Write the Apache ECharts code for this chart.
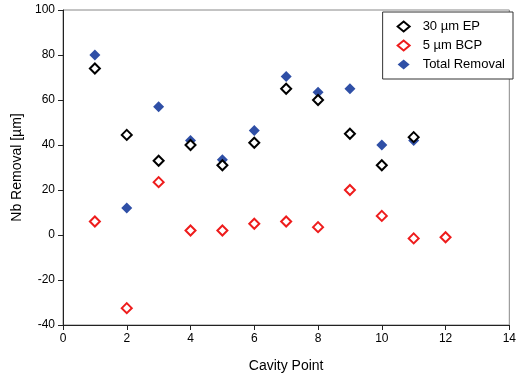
<!DOCTYPE html>
<html>
<head>
<meta charset="utf-8">
<script src="https://cdn.jsdelivr.net/npm/echarts@6/dist/echarts.min.js"></script>
<style>
  html, body { margin: 0; padding: 0; background: #fff; }
  #chart { width: 519px; height: 378px; }
</style>
</head>
<body>
<div id="chart"></div>
<script>
const cavityPoints = [1, 2, 3, 4, 5, 6, 7, 8, 9, 10, 11, 12];
const epValues = [74, 44.5, 33, 40, 31, 41, 65, 60, 45, 31, 43.5];
const bcpValues = [6, -32.5, 23.5, 2, 2, 5, 6, 3.5, 20, 8.5, -1.5, -1];
const totalValues = [80, 12, 57, 42, 33.5, 46.5, 70.5, 63.5, 65, 40, 42];

const pairs = (vals) => vals.map((v, i) => [cavityPoints[i], v]);

const chart = echarts.init(document.getElementById("chart"));
const font = "Liberation Sans, Arial, sans-serif";

const option = {
  animation: false,
  grid: {
    left: 63,
    right: 6,
    top: 10,
    bottom: 52,
    show: true,
    borderColor: "#888",
    borderWidth: 1,
  },
  legend: {
    orient: "vertical",
    right: 6,
    top: 12,
    padding: [8, 8, 8, 14],
    borderColor: "#333",
    borderWidth: 1,
    backgroundColor: "#fff",
    itemWidth: 12,
    itemHeight: 10,
    itemGap: 6,
    textStyle: { fontFamily: font, fontSize: 13, color: "#000", padding: [0, 0, 0, 8] },
    data: ["30 \u00b5m EP", "5 \u00b5m BCP", "Total Removal"],
  },
  xAxis: {
    type: "value",
    min: 0,
    max: 14,
    interval: 2,
    name: "Cavity Point",
    nameLocation: "middle",
    nameGap: 34,
    nameTextStyle: { fontFamily: font, fontSize: 14, color: "#000" },
    axisLine: { onZero: false, lineStyle: { color: "#222", width: 1 } },
    axisTick: { show: true, length: 5, lineStyle: { color: "#222" } },
    axisLabel: { fontFamily: font, fontSize: 12, color: "#000", margin: 8 },
    splitLine: { show: false },
  },
  yAxis: {
    type: "value",
    min: -40,
    max: 100,
    interval: 20,
    name: "Nb Removal [\u00b5m]",
    nameLocation: "middle",
    nameGap: 30,
    nameTextStyle: { fontFamily: font, fontSize: 14, color: "#000" },
    axisLine: { show: true, onZero: false, lineStyle: { color: "#222", width: 1 } },
    axisTick: { show: true, length: 5, lineStyle: { color: "#222" } },
    axisLabel: { fontFamily: font, fontSize: 12, color: "#000", margin: 8 },
    splitLine: { show: false },
  },
  series: [
    {
      name: "30 \u00b5m EP",
      type: "scatter",
      symbol: "diamond",
      symbolSize: 10,
      data: pairs(epValues),
      itemStyle: { color: "#fff", borderColor: "#000", borderWidth: 2, opacity: 1 },
      z: 3,
    },
    {
      name: "5 \u00b5m BCP",
      type: "scatter",
      symbol: "diamond",
      symbolSize: 10,
      data: pairs(bcpValues),
      itemStyle: { color: "#fff", borderColor: "#ee1c1c", borderWidth: 2, opacity: 1 },
      z: 3,
    },
    {
      name: "Total Removal",
      type: "scatter",
      symbol: "diamond",
      symbolSize: 11,
      data: pairs(totalValues),
      itemStyle: { color: "#2f4fa6", opacity: 1 },
      z: 2,
    },
  ],
};

chart.setOption(option);
window.addEventListener("resize", () => chart.resize());
</script>
</body>
</html>
